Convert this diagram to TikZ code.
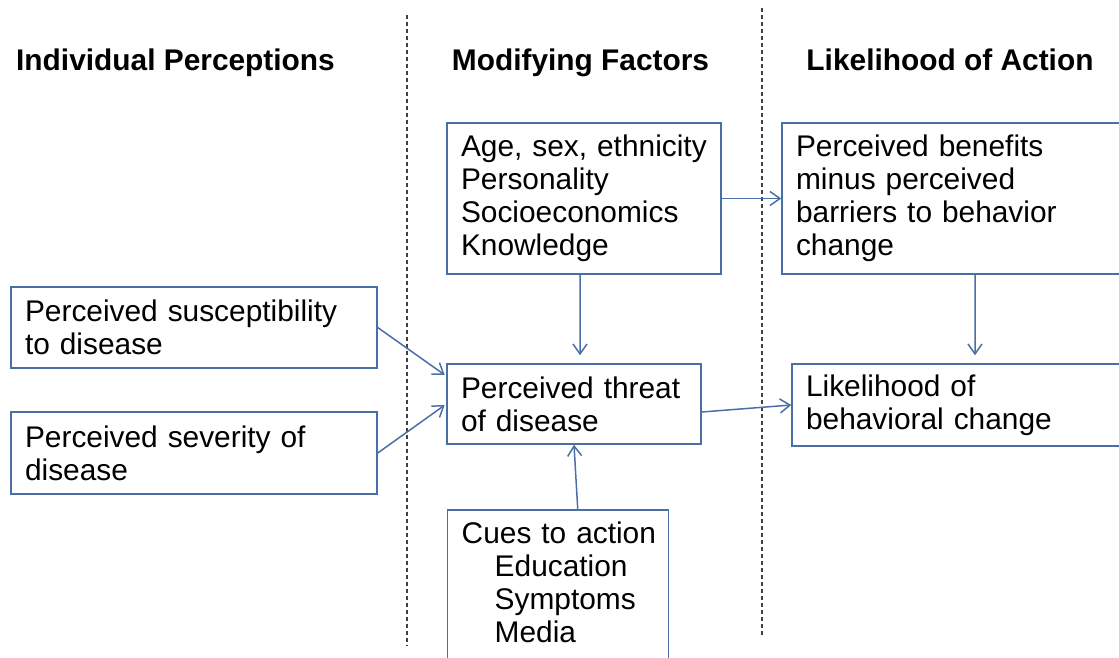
\documentclass[tikz,border=0pt]{standalone}
\usepackage{fontspec}
\setmainfont{Liberation Sans}
\usepackage{xcolor}
\usepackage{tikz}
\usetikzlibrary{arrows.meta}
\definecolor{edge}{HTML}{4A6FA5}
\definecolor{sep}{HTML}{404040}
\tikzset{
  box/.style={draw=edge, line width=0.85pt, inner xsep=0.28cm, inner ysep=0pt, align=left, font=\fontsize{17}{18.8}\selectfont},
  head/.style={font=\fontsize{17}{18.8}\selectfont\bfseries, anchor=base},
  arr/.style={draw=edge, line width=0.85pt, -{Straight Barb[length=0.2cm, width=0.28cm]}},
  divider/.style={draw=sep, line width=0.6pt, dash pattern=on 0.08cm off 0.06cm}
}
\newcommand{\ind}{\hspace*{0.66cm}}

\begin{document}
\begin{tikzpicture}[x=0.02cm, y=-0.02cm]
  \clip (0,0) rectangle (1119,657);

  \draw[divider] (407,15) -- (407,645);
  \draw[divider] (762,8) -- (762,635);

  \node[head] (h1) at (175.5,70) {Individual Perceptions};
  \node[head] (h2) at (580.5,70) {Modifying Factors};
  \node[head] (h3) at (950,70) {Likelihood of Action};

  \node[box, text width=4.92cm, minimum height=3.02cm] (A) at (584,198.5)
    {Age, sex, ethnicity\\Personality\\Socioeconomics\\Knowledge};
  \node[box, text width=6.40cm, minimum height=3.02cm] (B) at (956,198.5)
    {Perceived benefits\\minus perceived\\barriers to behavior\\change};
  \node[box, text width=6.76cm, minimum height=1.62cm] (C) at (194,327.5)
    {Perceived susceptibility\\to disease};
  \node[box, text width=6.76cm, minimum height=1.64cm] (D) at (194,453)
    {Perceived severity of\\disease};
  \node[box, text width=4.52cm, minimum height=1.60cm] (E) at (574,404)
    {Perceived threat\\of disease};
  \node[box, text width=6.20cm, minimum height=1.64cm] (F) at (961,405)
    {Likelihood of\\behavioral change};
  \node[box, text width=3.86cm, anchor=north west, inner ysep=0.24cm, text depth=2.7cm] (G) at (447,509)
    {\mbox{Cues to action}\\\ind Education\\\ind Symptoms\\\ind Media};

  \draw[arr] (A.east) -- (B.west);
  \draw[arr, shorten >=0.16cm] ([xshift=-0.08cm]A.south) -- ([xshift=0.12cm]E.north);
  \draw[arr, shorten >=0.16cm] ([xshift=0.38cm]B.south) -- ([xshift=0.28cm]F.north);
  \draw[arr, shorten >=0.04cm] (C.east) -- ([yshift=0.56cm]E.west);
  \draw[arr, shorten >=0.04cm] (D.east) -- (E.west);
  \draw[arr] ([xshift=0.39cm]G.north) -- (E.south);
  \draw[arr] ([yshift=-0.16cm]E.east) -- (F.west);
\end{tikzpicture}
\end{document}
